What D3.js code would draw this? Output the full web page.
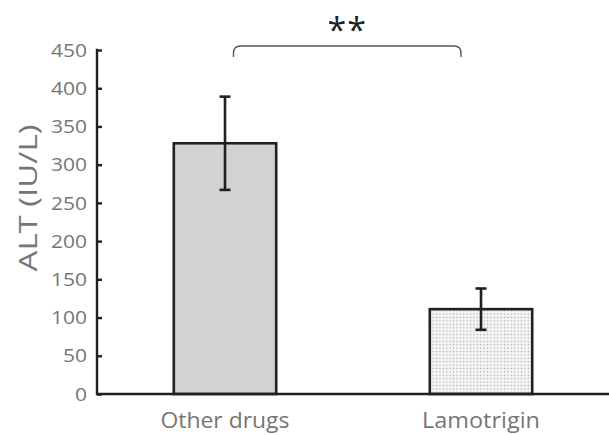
<!DOCTYPE html>
<html>
<head>
<meta charset="utf-8">
<script src="https://cdn.jsdelivr.net/npm/d3@7"></script>
<style>
  html, body { margin: 0; padding: 0; background: #fff; }
  svg { display: block; }
  text { font-family: "Open Sans", Lato, sans-serif; }
</style>
</head>
<body>
<svg id="chart" width="609" height="435"></svg>
<script>
// ALT levels by treatment group (mean ± error)
const categories = ["Other drugs", "Lamotrigin"];
const means = [328, 111];
const errors = [61, 27];
const yTicks = [0, 50, 100, 150, 200, 250, 300, 350, 400, 450];
const yLabel = "ALT (IU/L)";
const significance = "**";

const W = 609, H = 435;
const margin = { left: 97, right: 0, top: 50, bottom: 41 };
const svg = d3.select("#chart");

const ink = "#231f20";
const labelGray = "#767676";

// place a text label at (px, py) with rotation, widened along its run to a target width
function placeText(g, str, px, py, size, width, anchor, rot) {
  const t = g.append("text")
    .attr("font-size", size)
    .attr("fill", labelGray)
    .attr("dy", "0.36em")
    .text(str);
  const w = t.node().getComputedTextLength();
  const sx = width / w;
  const off = anchor === "end" ? -w : anchor === "middle" ? -w / 2 : 0;
  t.attr("x", off)
   .attr("transform", `translate(${px},${py}) rotate(${rot}) scale(${sx},1)`);
  return t;
}

// dotted fill for the second bar
const defs = svg.append("defs");
const pat = defs.append("pattern")
  .attr("id", "dots")
  .attr("patternUnits", "userSpaceOnUse")
  .attr("width", 3.4).attr("height", 3.4);
pat.append("rect").attr("width", 3.4).attr("height", 3.4).attr("fill", "#f8f8f8");
pat.append("rect").attr("x", 0.6).attr("y", 0.6).attr("width", 1.4).attr("height", 1.4).attr("fill", "#adadad");

const x = d3.scaleBand()
  .domain(categories)
  .range([margin.left, W - margin.right])
  .paddingInner(0.6)
  .paddingOuter(0.3);

const y = d3.scaleLinear()
  .domain([0, 450])
  .range([H - margin.bottom, margin.top]);

const fills = ["#d1d2d4", "url(#dots)"];

// bars
svg.append("g").selectAll("rect")
  .data(categories)
  .join("rect")
  .attr("x", d => x(d))
  .attr("y", (d, i) => y(means[i]))
  .attr("width", x.bandwidth())
  .attr("height", (d, i) => y(0) - y(means[i]))
  .attr("fill", (d, i) => fills[i])
  .attr("stroke", ink)
  .attr("stroke-width", 2.6);

// error bars
const eb = svg.append("g").attr("stroke", ink).attr("stroke-width", 2.6);
categories.forEach((c, i) => {
  const cx = x(c) + x.bandwidth() / 2;
  const hi = y(means[i] + errors[i]), lo = y(means[i] - errors[i]);
  eb.append("line").attr("x1", cx).attr("x2", cx).attr("y1", hi).attr("y2", lo);
  eb.append("line").attr("x1", cx - 5.5).attr("x2", cx + 5.5).attr("y1", hi).attr("y2", hi);
  eb.append("line").attr("x1", cx - 5.5).attr("x2", cx + 5.5).attr("y1", lo).attr("y2", lo);
});

// y axis with inward ticks
const yAxis = svg.append("g")
  .attr("transform", `translate(${margin.left},0)`)
  .call(d3.axisRight(y).tickValues(yTicks).tickSize(5).tickFormat(""));
yAxis.select(".domain").remove();
yAxis.selectAll(".tick line").attr("stroke", ink).attr("stroke-width", 2.4);
svg.append("line")
  .attr("x1", margin.left).attr("x2", margin.left)
  .attr("y1", y(450) - 1.2).attr("y2", y(0) + 1.2)
  .attr("stroke", ink).attr("stroke-width", 2.4);

// y tick labels
const tickG = svg.append("g");
yTicks.forEach(v => {
  placeText(tickG, String(v), margin.left - 10, y(v), 18.5, String(v).length * 12, "end", 0);
});

// x axis baseline
svg.append("line")
  .attr("x1", margin.left).attr("x2", W)
  .attr("y1", y(0)).attr("y2", y(0))
  .attr("stroke", ink).attr("stroke-width", 2.4);

// category labels
const catWidths = [129, 118];
const catG = svg.append("g");
categories.forEach((c, i) => {
  placeText(catG, c, x(c) + x.bandwidth() / 2, 420, 21.5, catWidths[i], "middle", 0);
});

// y axis title
placeText(svg, yLabel, 28, 198, 26, 147, "middle", -90);

// significance bracket between the two groups
const bx1 = 233.5, bx2 = 461, by = y(450) - 4, r = 7, drop = 11;
svg.append("path")
  .attr("d", `M${bx1},${by + drop} L${bx1},${by + r} Q${bx1},${by} ${bx1 + r},${by} L${bx2 - r},${by} Q${bx2},${by} ${bx2},${by + r} L${bx2},${by + drop}`)
  .attr("fill", "none")
  .attr("stroke", "#555")
  .attr("stroke-width", 1.4);

svg.append("text")
  .attr("x", (bx1 + bx2) / 2)
  .attr("y", 42)
  .attr("text-anchor", "middle")
  .attr("font-family", "DejaVu Sans")
  .attr("font-size", 34)
  .attr("letter-spacing", 1)
  .attr("fill", "#222")
  .text(significance);
</script>
</body>
</html>
